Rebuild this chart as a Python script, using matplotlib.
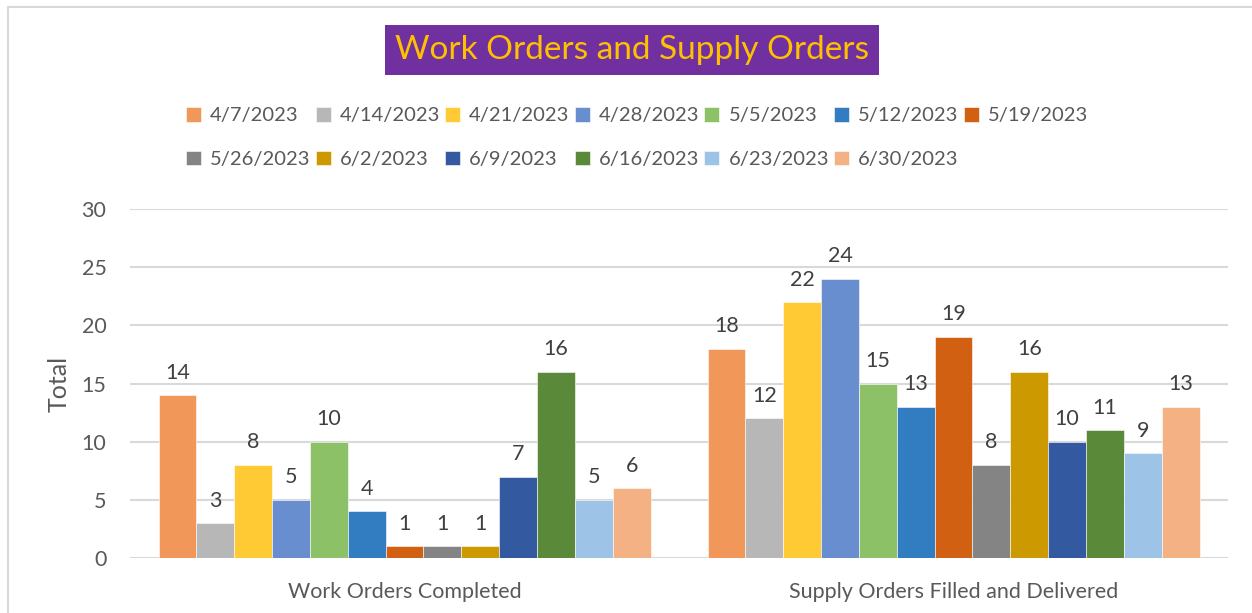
import matplotlib
matplotlib.use("Agg")
import matplotlib.pyplot as plt
import matplotlib.patches as mpatches
import numpy as np

plt.rcParams['font.family'] = ['Lato', 'DejaVu Sans']

categories = ["Work Orders Completed", "Supply Orders Filled and Delivered"]
dates = ["4/7/2023", "4/14/2023", "4/21/2023", "4/28/2023", "5/5/2023", "5/12/2023",
         "5/19/2023", "5/26/2023", "6/2/2023", "6/9/2023", "6/16/2023", "6/23/2023", "6/30/2023"]
work_orders = [14, 3, 8, 5, 10, 4, 1, 1, 1, 7, 16, 5, 6]
supply_orders = [18, 12, 22, 24, 15, 13, 19, 8, 16, 10, 11, 9, 13]
colors = ["#F1975A", "#B7B7B7", "#FFCA34", "#698ED0", "#8CC168", "#327DC2", "#D26012",
          "#848484", "#CC9A00", "#335AA1", "#5A8A39", "#9DC3E6", "#F4B183"]
yticks = [0, 5, 10, 15, 20, 25, 30]

fig = plt.figure(figsize=(12.52, 6.13), dpi=100)
ax = fig.add_axes([130/1252, 1-558/613, (1228-130)/1252, (558-209)/613])

# outer chart border
fig.patches.append(mpatches.Rectangle((8/1252, -0.05), 1.1, 1-7/613+0.05, transform=fig.transFigure,
                                      fill=False, edgecolor="#D9D9D9", linewidth=1.5, zorder=0))

n = len(dates)
bw = 492/549/n
x = np.arange(len(categories))
for i in range(n):
    vals = [work_orders[i], supply_orders[i]]
    pos = x - 492/549/2 + bw*(i+0.5)
    bars = ax.bar(pos, vals, width=bw, color=colors[i], edgecolor="white", linewidth=0.4,
                  label=dates[i], zorder=3)
    for b, v in zip(bars, vals):
        ax.annotate(str(v), (b.get_x()+b.get_width()/2, v), xytext=(0, 9), textcoords="offset points",
                    ha="center", va="bottom", fontsize=15.5, color="#404040")

ax.set_xlim(-0.5, 1.5)
ax.set_ylim(0, 30)
ax.set_yticks(yticks)
ax.set_xticks(x)
ax.set_xticklabels(categories)
ax.tick_params(axis="both", length=0, labelsize=15.5, labelcolor="#595959")
ax.tick_params(axis="y", pad=17)
ax.tick_params(axis="x", pad=17)
for s in ax.spines.values():
    s.set_visible(False)
ax.grid(axis="y", color="#D9D9D9", linewidth=1.5, zorder=0)
ax.set_axisbelow(True)
ax.set_ylabel("Total", fontsize=18, color="#595959", labelpad=8)

handles, labels = ax.get_legend_handles_labels()
order = [0, 7, 1, 8, 2, 9, 3, 10, 4, 11, 5, 12, 6]
leg = fig.legend([handles[k] for k in order], [labels[k] for k in order], ncol=7,
                 loc="center", bbox_to_anchor=(637/1252, 1-137.5/613), frameon=False,
                 fontsize=14.5, labelcolor="#595959", handlelength=0.75, handleheight=0.75,
                 handletextpad=0.45, columnspacing=0.25, labelspacing=1.3)

fig.text(632/1252, 1-50/613, "Work Orders and Supply Orders", ha="center", va="center",
         fontsize=24, color="#FFC000",
         bbox=dict(boxstyle="square,pad=0.3", facecolor="#7030A0", edgecolor="none"))

fig.savefig("out.png", dpi=100)
